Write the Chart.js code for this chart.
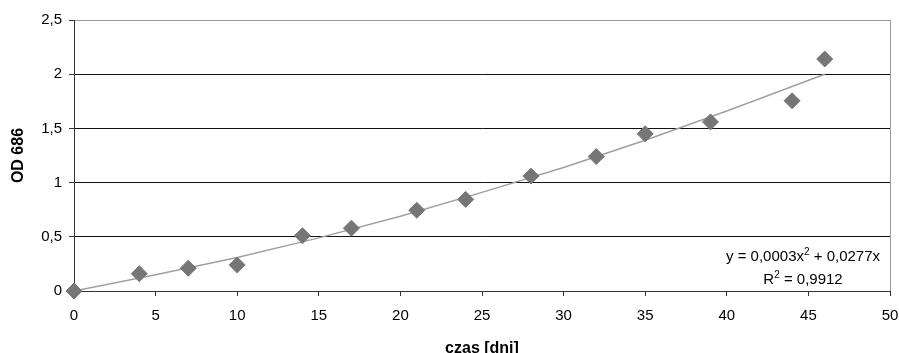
<!DOCTYPE html>
<html>
<head>
<meta charset="utf-8">
<script src="https://cdn.jsdelivr.net/npm/chart.js@4/dist/chart.umd.min.js"></script>
<style>
  html, body { margin: 0; padding: 0; background: #fff; }
  #wrap { width: 899px; height: 353px; }
</style>
</head>
<body>
<div id="wrap"><canvas id="myChart"></canvas></div>
<script>
// pomiary
const days = [0, 4, 7, 10, 14, 17, 21, 24, 28, 32, 35, 39, 44, 46];
const od686 = [0, 0.16, 0.21, 0.24, 0.51, 0.58, 0.745, 0.845, 1.06, 1.24, 1.45, 1.56, 1.755, 2.14];

// linia trendu
const trendDays = [0, 5, 10, 15, 20, 25, 30, 35, 40, 46];
const trendOd = [0, 0.15, 0.31, 0.49, 0.69, 0.91, 1.14, 1.39, 1.66, 2.0];

const yTicks = [0, 0.5, 1, 1.5, 2, 2.5];
const xTicks = [0, 5, 10, 15, 20, 25, 30, 35, 40, 45, 50];

const equationLines = ["y = 0,0003x", "2", " + 0,0277x"];
const r2Lines = ["R", "2", " = 0,9912"];

Chart.defaults.font.family = "'Liberation Sans', Arial, sans-serif";
Chart.defaults.color = "#000";

const FONT = "15px 'Liberation Sans', Arial, sans-serif";
const SUP = "10px 'Liberation Sans', Arial, sans-serif";

// rysuje tekst z indeksem gornym, wysrodkowany
function drawSup(ctx, parts, cx, cy) {
  ctx.font = FONT;
  const w0 = ctx.measureText(parts[0]).width;
  const w2 = ctx.measureText(parts[2]).width;
  ctx.font = SUP;
  const w1 = ctx.measureText(parts[1]).width;
  let x = cx - (w0 + w1 + w2) / 2;
  ctx.textBaseline = "middle";
  ctx.textAlign = "left";
  ctx.font = FONT;
  ctx.fillText(parts[0], x, cy);
  x += w0;
  ctx.font = SUP;
  ctx.fillText(parts[1], x, cy - 5);
  x += w1;
  ctx.font = FONT;
  ctx.fillText(parts[2], x, cy);
}

const equationPlugin = {
  id: "equation",
  afterDraw(chart) {
    const ctx = chart.ctx;
    const area = chart.chartArea;
    ctx.save();
    ctx.fillStyle = "#000";
    drawSup(ctx, equationLines, area.right - 87, area.bottom - 34);
    drawSup(ctx, r2Lines, area.right - 87, area.bottom - 11);
    ctx.restore();
  },
};

new Chart(document.getElementById("myChart"), {
  type: "scatter",
  data: {
    datasets: [
      {
        label: "OD 686",
        data: days.map((d, i) => ({ x: d, y: od686[i] })),
        backgroundColor: "#767676",
        borderColor: "#767676",
        pointStyle: "rectRot",
        pointRadius: 8,
        pointHoverRadius: 8,
        clip: false,
        order: 1,
      },
      {
        type: "line",
        label: "trend",
        data: trendDays.map((d, i) => ({ x: d, y: trendOd[i] })),
        borderColor: "#a0a0a0",
        borderWidth: 1.5,
        pointRadius: 0,
        fill: false,
        tension: 0,
        order: 2,
      },
    ],
  },
  options: {
    responsive: true,
    maintainAspectRatio: false,
    animation: false,
    layout: { padding: { top: 20, right: 8, left: 0, bottom: 0 } },
    plugins: {
      legend: { display: false },
      tooltip: { enabled: false },
    },
    scales: {
      x: {
        type: "linear",
        min: 0,
        max: 50,
        afterBuildTicks: (axis) => { axis.ticks = xTicks.map((v) => ({ value: v })); },
        afterFit: (axis) => {
          axis.height = 62;
          axis.paddingLeft = 0;
          axis.paddingRight = 0;
        },
        ticks: { font: { size: 15 }, padding: 11, maxRotation: 0 },
        grid: {
          color: (c) => (c.tick && c.tick.value === 50 ? "#999" : "transparent"),
          tickColor: "#333",
          tickLength: 5,
          lineWidth: 1,
        },
        border: { color: "#333", width: 1 },
        title: {
          display: true,
          text: "czas [dni]",
          font: { size: 16, weight: "bold" },
          padding: { top: 0, bottom: -5 },
        },
      },
      y: {
        min: 0,
        max: 2.5,
        afterBuildTicks: (axis) => { axis.ticks = yTicks.map((v) => ({ value: v })); },
        afterFit: (axis) => {
          axis.width = 74;
          axis.paddingTop = 0;
          axis.paddingBottom = 0;
        },
        ticks: {
          font: { size: 15 },
          padding: 7,
          callback: (v) => String(v).replace(".", ","),
        },
        grid: {
          color: (c) => (c.tick && c.tick.value === 2.5 ? "#999" : (c.tick && c.tick.value === 0 ? "transparent" : "#111")),
          tickColor: "#333",
          tickLength: 5,
          lineWidth: 1,
        },
        border: { color: "#333", width: 1 },
        title: {
          display: true,
          text: "OD 686",
          font: { size: 16, weight: "bold" },
          padding: { top: 9, bottom: 0 },
        },
      },
    },
  },
  plugins: [equationPlugin],
});
</script>
</body>
</html>
